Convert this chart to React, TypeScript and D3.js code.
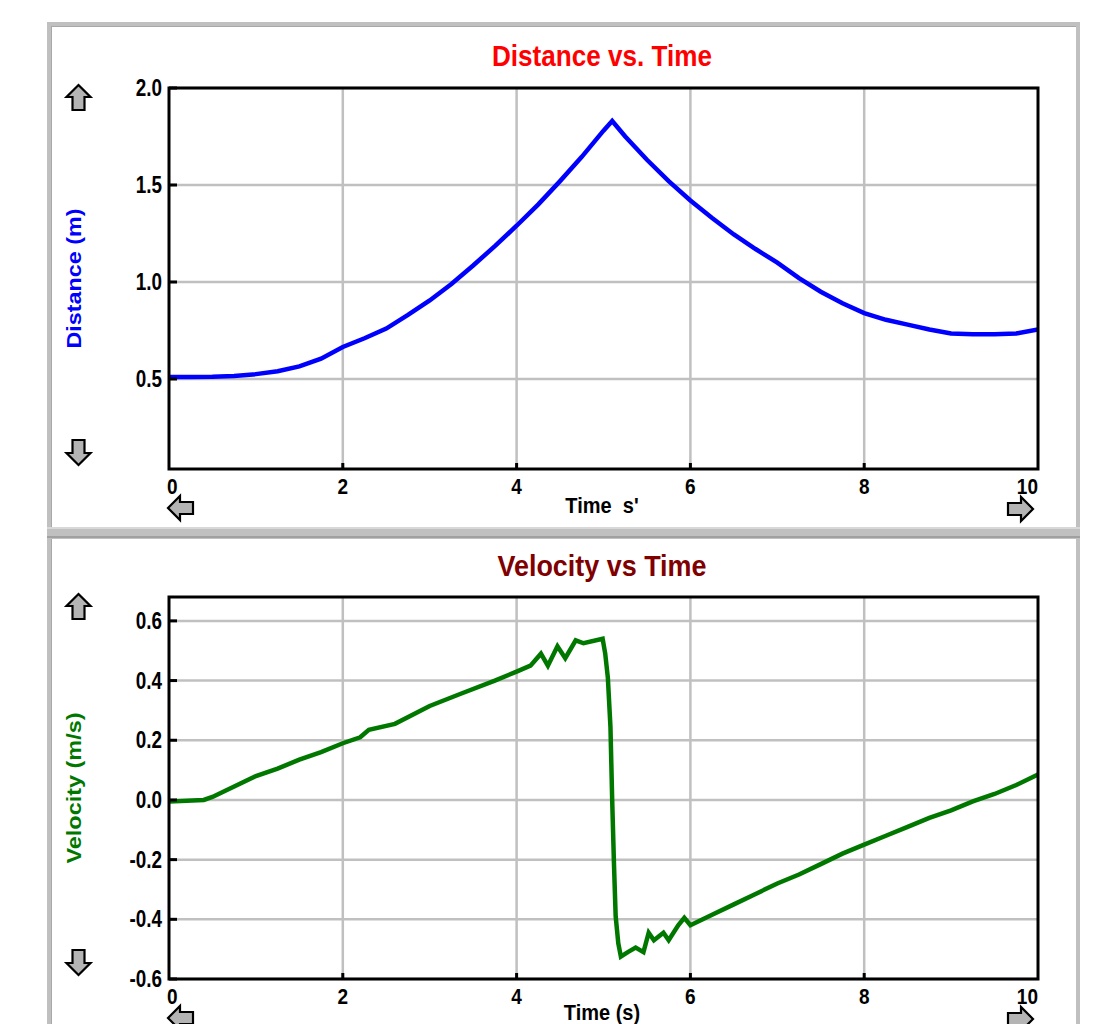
import React from 'react';
import * as d3 from 'd3';

// distance readings (s, m)
const distTime = [0, 0.25, 0.5, 0.75, 1.0, 1.25, 1.5, 1.75, 2.0, 2.25, 2.5, 2.75, 3.0, 3.25, 3.5, 3.75, 4.0, 4.25, 4.5, 4.75, 5.0, 5.1, 5.25, 5.5, 5.75, 6.0, 6.25, 6.5, 6.75, 7.0, 7.25, 7.5, 7.75, 8.0, 8.25, 8.5, 8.75, 9.0, 9.25, 9.5, 9.75, 10.0];
const distValues = [0.51, 0.51, 0.511, 0.515, 0.525, 0.54, 0.565, 0.605, 0.665, 0.71, 0.76, 0.83, 0.905, 0.99, 1.085, 1.185, 1.29, 1.4, 1.52, 1.645, 1.78, 1.83, 1.75, 1.63, 1.52, 1.42, 1.33, 1.245, 1.17, 1.1, 1.02, 0.95, 0.89, 0.84, 0.805, 0.78, 0.755, 0.735, 0.73, 0.73, 0.735, 0.755];

// velocity readings (s, m/s)
const velTime = [0, 0.4, 0.5, 0.75, 1.0, 1.25, 1.5, 1.75, 2.0, 2.2, 2.3, 2.6, 3.0, 3.35, 3.75, 4.0, 4.16, 4.28, 4.36, 4.47, 4.56, 4.68, 4.77, 4.99, 5.02, 5.05, 5.08, 5.1, 5.12, 5.14, 5.17, 5.2, 5.28, 5.37, 5.46, 5.52, 5.58, 5.69, 5.75, 5.86, 5.93, 6.0, 6.25, 6.5, 6.75, 7.0, 7.25, 7.5, 7.75, 8.0, 8.25, 8.5, 8.75, 9.0, 9.25, 9.5, 9.75, 10.0];
const velValues = [-0.005, 0.0, 0.01, 0.045, 0.08, 0.105, 0.135, 0.16, 0.19, 0.21, 0.235, 0.255, 0.315, 0.355, 0.4, 0.43, 0.45, 0.49, 0.45, 0.515, 0.475, 0.535, 0.525, 0.54, 0.49, 0.41, 0.245, 0.0, -0.21, -0.39, -0.48, -0.525, -0.51, -0.495, -0.51, -0.445, -0.47, -0.445, -0.47, -0.42, -0.395, -0.42, -0.385, -0.35, -0.315, -0.28, -0.25, -0.215, -0.18, -0.15, -0.12, -0.09, -0.06, -0.035, -0.005, 0.02, 0.05, 0.085];

const xTicks = [0, 2, 4, 6, 8, 10];
const distTicks = [0.5, 1.0, 1.5, 2.0];
const velTicks = [-0.6, -0.4, -0.2, 0.0, 0.2, 0.4, 0.6];

const FONT = '"Liberation Sans", Arial, sans-serif';
// plain hyphen for negatives, like the original app
const fmt = (v) => v.toFixed(1);

function Arrow({ x, y, angle }) {
  return (
    <path
      d="M0,-13 L12,-1 L6,-1 L6,12 L-6,12 L-6,-1 L-12,-1 Z"
      transform={`translate(${x},${y}) rotate(${angle})`}
      fill="#b4b4b4"
      stroke="#000"
      strokeWidth={2.2}
      strokeLinejoin="miter"
    />
  );
}

function Panel({ id, top, plotTop, plotBottom, yDomain, yTicks, times, values, color, title, titleColor, titleLen, yLabel, yLabelLen, xLabel, xLabelY }) {
  const x = d3.scaleLinear().domain([0, 10]).range([169, 1038]);
  const y = d3.scaleLinear().domain(yDomain).range([plotBottom, plotTop]);
  const pts = times.map((t, i) => [t, values[i]]);
  const line = d3.line().x(d => x(d[0])).y(d => y(d[1]));
  const midY = (plotTop + plotBottom) / 2;

  return (
    <g>
      <defs>
        <clipPath id={`clip-${id}`}>
          <rect x={169} y={plotTop} width={869} height={plotBottom - plotTop} />
        </clipPath>
      </defs>
      <text transform={`translate(602,${top + 42}) scale(1,1.12)`} textAnchor="middle" fontFamily={FONT}
        fontWeight="bold" fontSize={26} fill={titleColor} textLength={titleLen}
        lengthAdjust="spacingAndGlyphs">{title}</text>

      {/* grid */}
      {xTicks.slice(1, -1).map(t => (
        <line key={'gx' + t} x1={x(t)} x2={x(t)} y1={plotTop} y2={plotBottom} stroke="#c0c0c0" strokeWidth={2.5} />
      ))}
      {yTicks.map(t => (
        <line key={'gy' + t} x1={169} x2={1038} y1={y(t)} y2={y(t)} stroke="#c0c0c0" strokeWidth={2.5} />
      ))}

      <path d={line(pts)} fill="none" stroke={color} strokeWidth={4.5} clipPath={`url(#clip-${id})`} />

      <rect x={169} y={plotTop} width={869} height={plotBottom - plotTop} fill="none" stroke="#000" strokeWidth={3} />

      {/* tick marks */}
      {yTicks.map(t => (
        <line key={'ty' + t} x1={169} x2={177} y1={y(t)} y2={y(t)} stroke="#000" strokeWidth={3} />
      ))}
      {xTicks.slice(1, -1).map(t => (
        <line key={'tx' + t} x1={x(t)} x2={x(t)} y1={plotBottom} y2={plotBottom - 6} stroke="#000" strokeWidth={3} />
      ))}

      {/* tick labels */}
      {yTicks.map(t => (
        <text key={'ly' + t} transform={`translate(162,${y(t) + 8}) scale(0.9,1.18)`} textAnchor="end"
          fontFamily={FONT} fontWeight="bold" fontSize={21} fill="#000">{fmt(t)}</text>
      ))}
      {xTicks.map((t, i) => (
        <text key={'lx' + t} transform={`translate(${x(t) + (i === 0 ? -2 : 0)},${plotBottom + 25}) scale(0.95,1.1)`}
          textAnchor={i === 0 ? 'start' : i === xTicks.length - 1 ? 'end' : 'middle'}
          fontFamily={FONT} fontWeight="bold" fontSize={20} fill="#000">{t}</text>
      ))}

      <text transform={`translate(602,${xLabelY}) scale(1,1.1)`} textAnchor="middle" fontFamily={FONT}
        fontWeight="bold" fontSize={20} fill="#000" style={{ whiteSpace: 'pre' }}>{xLabel}</text>

      <text transform={`translate(81,${midY}) rotate(-90)`} textAnchor="middle" fontFamily={FONT} fontWeight="bold"
        fontSize={20} fill={color} textLength={yLabelLen} lengthAdjust="spacingAndGlyphs">{yLabel}</text>

      <Arrow x={78.5} y={plotTop + 10} angle={0} />
      <Arrow x={78.5} y={plotBottom - 17} angle={180} />
      <Arrow x={181} y={plotBottom + 39} angle={-90} />
      <Arrow x={1020} y={plotBottom + 40} angle={90} />
    </g>
  );
}

export default function App() {
  return (
    <div style={{ position: 'absolute', left: 0, top: 0 }}>
      <svg width={1113} height={1024} style={{ display: 'block', background: '#fff' }}>
        {/* window frame */}
        <rect x={47} y={22} width={1033} height={5} fill="#c0c0c0" />
        <rect x={51} y={26} width={1025} height={1} fill="#a8a8a8" />
        <rect x={47} y={22} width={5} height={1002} fill="#c0c0c0" />
        <rect x={51} y={26} width={1} height={998} fill="#a8a8a8" />
        <rect x={1076} y={22} width={4} height={1002} fill="#c0c0c0" />
        <rect x={47} y={527} width={1033} height={12} fill="#c0c0c0" />
        <rect x={47} y={527} width={1033} height={2} fill="#d8d8d8" />
        <rect x={47} y={536} width={1033} height={2} fill="#a0a0a0" />

        <Panel
          id="dist"
          top={24}
          plotTop={88}
          plotBottom={469}
          yDomain={[0.036, 2.0]}
          yTicks={distTicks}
          times={distTime}
          values={distValues}
          color="#0000ff"
          title="Distance vs. Time"
          titleColor="#ff0000"
          titleLen={220}
          yLabel="Distance (m)"
          yLabelLen={140}
          xLabel="Time  s'"
          xLabelY={513}
        />
        <Panel
          id="vel"
          top={534}
          plotTop={597}
          plotBottom={979}
          yDomain={[-0.6, 0.68]}
          yTicks={velTicks}
          times={velTime}
          values={velValues}
          color="#007800"
          title="Velocity vs Time"
          titleColor="#800000"
          titleLen={209}
          yLabel="Velocity (m/s)"
          yLabelLen={151}
          xLabel="Time (s)"
          xLabelY={1020}
        />
      </svg>
    </div>
  );
}
